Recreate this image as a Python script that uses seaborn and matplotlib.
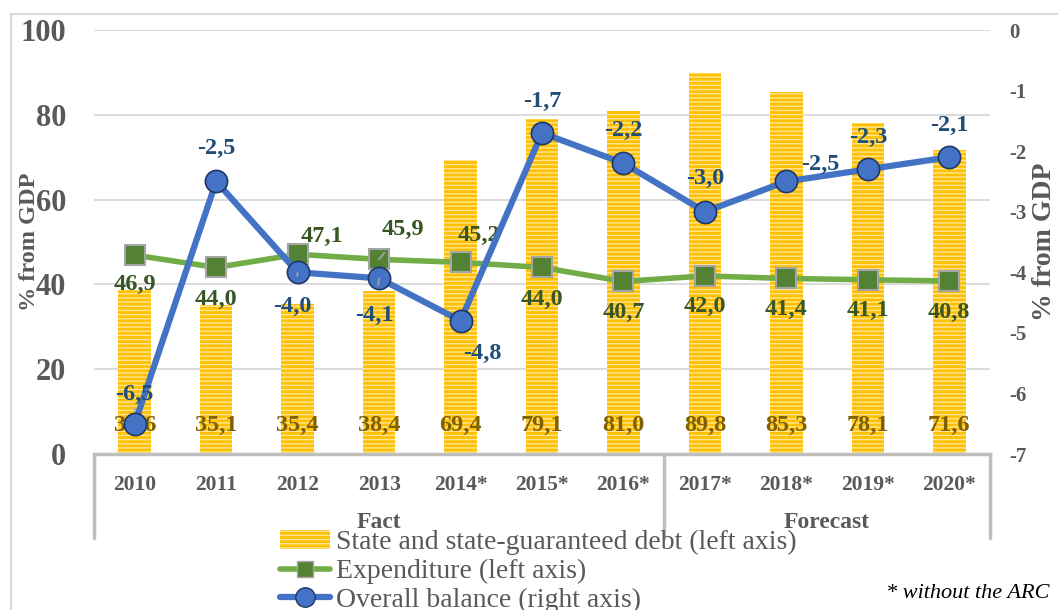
import numpy as np
import pandas as pd
import matplotlib.pyplot as plt
import matplotlib.patches as mpatches
from matplotlib.lines import Line2D
import seaborn as sns

sns.set_theme(style="white")
plt.rcParams["font.family"] = ["Liberation Serif", "DejaVu Serif"]
plt.rcParams["hatch.linewidth"] = 1.0
plt.rcParams["axes.unicode_minus"] = False

# === Data ===
years = ["2010", "2011", "2012", "2013", "2014*", "2015*", "2016*",
         "2017*", "2018*", "2019*", "2020*"]
debt = [38.6, 35.1, 35.4, 38.4, 69.4, 79.1, 81.0, 89.8, 85.3, 78.1, 71.6]
expenditure = [46.9, 44.0, 47.1, 45.9, 45.2, 44.0, 40.7, 42.0, 41.4, 41.1, 40.8]
balance = [-6.5, -2.5, -4.0, -4.1, -4.8, -1.7, -2.2, -3.0, -2.5, -2.3, -2.1]
groups = ["Fact", "Forecast"]

# label offsets (pixels) for the line data labels
exp_off = [(0, -29), (0, -32), (24, 18), (24, 30), (18, 27), (0, -32),
           (0, -31), (0, -31), (0, -31), (0, -31), (0, -31)]
bal_off = [(0, 29), (0, 33), (-5, -34), (-5, -37), (22, -33), (0, 32),
           (0, 33), (0, 33), (34, 17), (0, 32), (0, 32)]

GRAY = "#595959"
GOLD = "#FFC000"
GREEN = "#70AD47"
BLUE = "#4472C4"
STRIPE = "#FFE699"

df = pd.DataFrame({"Year": years, "Debt": debt,
                   "Expenditure": expenditure, "Balance": balance})
df["pos"] = np.arange(len(df))

fig = plt.figure(figsize=(10.58, 6.10), dpi=100)
ax = fig.add_axes([94 / 1058, 1 - 454 / 610, (990 - 94) / 1058, 424 / 610])

# outer chart border
fig.patches.append(mpatches.Rectangle((11 / 1058, -0.1), 1.2, 1 - 14 / 610 + 0.1,
                                      transform=fig.transFigure, fill=False,
                                      edgecolor="#d9d9d9", linewidth=1.5))

# === Bars ===
sns.barplot(data=df, x="Year", y="Debt", ax=ax, color=GOLD, width=0.4,
            saturation=1, zorder=2)
for bar in ax.patches:
    bar.set_hatch("----")
    bar.set_edgecolor(STRIPE)
    bar.set_linewidth(0)

# === Expenditure line ===
sns.lineplot(data=df, x="pos", y="Expenditure", ax=ax, color=GREEN,
             linewidth=4, marker="s", markersize=14,
             markerfacecolor="#548235", markeredgecolor="#a5a5a5",
             markeredgewidth=1.5, zorder=3)

ax.set_ylim(0, 100)
ax.set_xlim(-0.5, 10.5)
ax.set_yticks([0, 20, 40, 60, 80, 100])
ax.yaxis.grid(True, color="#d9d9d9", linewidth=1.3)
ax.set_axisbelow(True)
for s in ["top", "right", "left"]:
    ax.spines[s].set_visible(False)
ax.spines["bottom"].set_color("#bfbfbf")
ax.spines["bottom"].set_linewidth(2.5)
ax.tick_params(axis="y", length=0, labelsize=22, labelcolor=GRAY, pad=20)
ax.tick_params(axis="x", length=0, labelsize=15.5, labelcolor=GRAY, pad=15)
for t in ax.get_yticklabels() + ax.get_xticklabels():
    t.set_fontweight("bold")
ax.set_xlabel("")
ax.set_ylabel("% from GDP", fontsize=17.5, fontweight="bold", color=GRAY)
ax.yaxis.set_label_coords((40 - 94) / 896, 0.5)

# bar labels inside base
for i, v in enumerate(debt):
    ax.annotate(f"{v:.1f}".replace(".", ","), (i, 0), xytext=(0, 29),
                textcoords="offset pixels", ha="center", va="center",
                fontsize=17.5, fontweight="bold", color="#7F6000", zorder=5)

# expenditure labels
for i, v in enumerate(expenditure):
    dx, dy = exp_off[i]
    arrow = dict(arrowstyle="-", color="#a5a5a5", lw=1.2,
                 shrinkA=9, shrinkB=7) if i == 3 else None
    ax.annotate(f"{v:.1f}".replace(".", ","), (i, v), xytext=(dx, dy),
                textcoords="offset pixels", ha="center", va="center",
                fontsize=17.5, fontweight="bold", color="#375623",
                arrowprops=arrow, zorder=6)

# === Balance line on right axis ===
ax2 = ax.twinx()
sns.lineplot(data=df, x="pos", y="Balance", ax=ax2, color=BLUE,
             linewidth=4.5, marker="o", markersize=16,
             markerfacecolor=BLUE, markeredgecolor="#1F3864",
             markeredgewidth=1.2, zorder=4)
ax2.set_ylim(-7, 0)
ax2.set_xlim(-0.5, 10.5)
ax2.set_yticks(range(-7, 1))
ax2.grid(False)
for s in ax2.spines.values():
    s.set_visible(False)
ax2.tick_params(axis="y", length=0, labelsize=15, labelcolor=GRAY, pad=14)
for t in ax2.get_yticklabels():
    t.set_fontweight("bold")
ax2.set_ylabel("% from GDP", fontsize=20, fontweight="bold", color=GRAY)
ax2.yaxis.set_label_coords((1032 - 94) / 896, 0.5)

for i, v in enumerate(balance):
    dx, dy = bal_off[i]
    arrow = dict(arrowstyle="-", color="#a5a5a5", lw=1.2,
                 shrinkA=12, shrinkB=9) if i in (0, 2, 3) else None
    ax2.annotate(f"{v:.1f}".replace(".", ","), (i, v), xytext=(dx, dy),
                 textcoords="offset pixels", ha="center", va="center",
                 fontsize=17.5, fontweight="bold", color="#1F4E79",
                 arrowprops=arrow, zorder=7)

# === Two-level category axis ===
trans = ax.get_xaxis_transform()
for xv in [-0.5, 6.5, 10.5]:
    ax.plot([xv, xv], [0, -84 / 424], transform=trans, color="#bfbfbf",
            linewidth=2.5, clip_on=False)
ax.text(3, -68 / 424, groups[0], transform=trans, ha="center", va="center",
        fontsize=17, fontweight="bold", color=GRAY)
ax.text(8.5, -68 / 424, groups[1], transform=trans, ha="center", va="center",
        fontsize=17, fontweight="bold", color=GRAY)

# === Legend ===
handles = [
    mpatches.Patch(facecolor=GOLD, edgecolor=STRIPE, hatch="----", linewidth=0),
    Line2D([], [], color=GREEN, linewidth=4, marker="s", markersize=12,
           markerfacecolor="#548235", markeredgecolor="#a5a5a5"),
    Line2D([], [], color=BLUE, linewidth=4.5, marker="o", markersize=14,
           markerfacecolor=BLUE, markeredgecolor="#1F3864"),
]
labels = ["State and state-guaranteed debt (left axis)",
          "Expenditure (left axis)",
          "Overall balance (right axis)"]
fig.legend(handles, labels, loc="upper left",
           bbox_to_anchor=(280 / 1058, 1 - 530 / 610), frameon=False,
           fontsize=20, labelcolor=GRAY, handlelength=1.8, handleheight=0.7,
           handletextpad=0.2, labelspacing=0.12, borderpad=0,
           borderaxespad=0)

fig.text(1050 / 1058, 1 - 593 / 610, "* without the ARC", ha="right",
         va="center", fontsize=16, fontstyle="italic", color="black")

fig.savefig("out.png", dpi=100)
